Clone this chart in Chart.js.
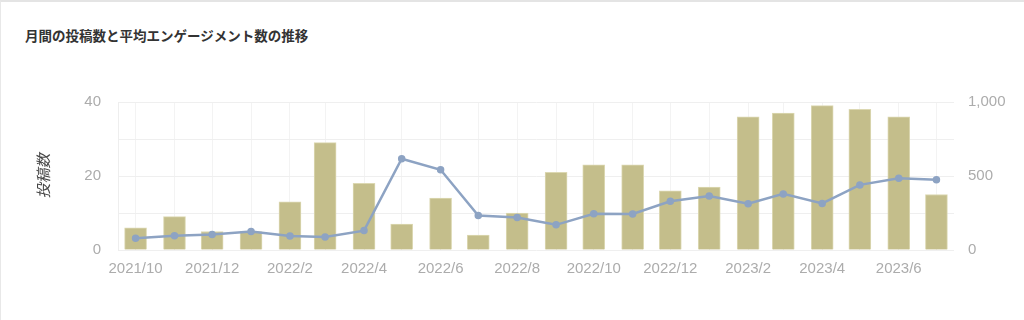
<!DOCTYPE html>
<html>
<head>
<meta charset="utf-8">
<script src="https://cdn.jsdelivr.net/npm/chart.js@4/dist/chart.umd.min.js"></script>
<style>
  html, body { margin: 0; padding: 0; background: #fff; }
  .card {
    position: relative;
    width: 1023px; height: 318px;
    border-top: 2px solid #e4e4e4;
    border-left: 1px solid #e8e8e8;
    font-family: "Noto Sans CJK JP", sans-serif;
  }
  .title {
    position: absolute; left: 24px; top: 23px;
    font-size: 13.5px; font-weight: bold; color: #333;
  }
  .wrap { position: absolute; left: 29px; top: 74px; width: 990px; height: 214px; }
</style>
</head>
<body>
<div class="card">
  <div class="title">月間の投稿数と平均エンゲージメント数の推移</div>
  <div class="wrap"><canvas id="chart"></canvas></div>
</div>
<script>
// months shown on the x axis
const months = [
  '2021/10', '2021/11', '2021/12', '2022/1', '2022/2', '2022/3', '2022/4', '2022/5',
  '2022/6', '2022/7', '2022/8', '2022/9', '2022/10', '2022/11', '2022/12', '2023/1',
  '2023/2', '2023/3', '2023/4', '2023/5', '2023/6', '2023/7'
]
// 投稿数 (left axis)
const posts = [6, 9, 5, 5, 13, 29, 18, 7, 14, 4, 10, 21, 23, 23, 16, 17, 36, 37, 39, 38, 36, 15]
// 平均エンゲージメント数 (right axis)
const engagement = [80, 97, 104, 125, 95, 88, 131, 617, 542, 233, 220, 170, 245, 243, 329, 365, 313, 379, 315, 440, 485, 474]

const leftTicks = [0, 20, 40]
const rightTicks = [0, 500, 1000]

// month string -> day number, so Feb gets its shorter gap like a time axis
const dayOf = (m) => {
    const [y, mo] = m.split('/').map(Number)
    return Date.UTC(y, mo - 1, 1) / 86400000
}
const days = months.map(dayOf)

const tickFont = { family: "'Liberation Sans', Arial, sans-serif", size: 15 }
const tickColor = '#acacac'

new Chart(document.getElementById('chart'), {
    data: {
        datasets: [
            {
                type: 'line',
                label: '平均エンゲージメント数',
                data: days.map((d, i) => ({ x: d, y: engagement[i] })),
                yAxisID: 'y1',
                borderColor: '#8da3c3',
                backgroundColor: '#8da3c3',
                borderWidth: 2.5,
                pointRadius: 2.5,
                tension: 0,
                order: 0
            },
            {
                type: 'bar',
                label: '投稿数',
                data: days.map((d, i) => ({ x: d, y: posts[i] })),
                yAxisID: 'y',
                backgroundColor: '#c4be8b',
                borderColor: '#dcd8b2',
                borderWidth: 1,
                barThickness: 22,
                order: 1
            }
        ]
    },
    options: {
        responsive: true,
        maintainAspectRatio: false,
        animation: false,
        layout: { padding: { top: 4 } },
        plugins: { legend: { display: false }, tooltip: { enabled: false } },
        scales: {
            x: {
                type: 'linear',
                offset: false,
                min: days[0] - 14,
                max: days[days.length - 1] + 14,
                afterBuildTicks: (scale) => { scale.ticks = days.map(v => ({ value: v })) },
                afterFit: (scale) => { scale.height = 40 },
                grid: { color: '#f3f3f3', drawTicks: false, offset: false },
                border: { display: false },
                ticks: {
                    autoSkip: false,
                    maxRotation: 0,
                    padding: 10,
                    color: tickColor,
                    font: tickFont,
                    callback: (v, i) => i % 2 === 0 ? months[i] : ''
                }
            },
            y: {
                position: 'left',
                min: 0,
                max: 40,
                afterFit: (scale) => { scale.width = 88 },
                grid: { color: '#efefef', drawTicks: false },
                border: { color: '#eeeeee' },
                title: {
                    display: true,
                    text: '投稿数',
                    color: '#444',
                    padding: { bottom: 14 },
                    font: { family: "'Noto Sans CJK JP', sans-serif", size: 15, style: 'italic' }
                },
                ticks: {
                    stepSize: 10,
                    padding: 17,
                    color: tickColor,
                    font: tickFont,
                    callback: (v) => leftTicks.includes(v) ? v : ''
                }
            },
            y1: {
                position: 'right',
                min: 0,
                max: 1000,
                afterFit: (scale) => { scale.width = 66 },
                grid: { display: false, drawTicks: false },
                border: { display: false },
                ticks: {
                    stepSize: 250,
                    padding: 14,
                    color: tickColor,
                    font: tickFont,
                    callback: (v) => rightTicks.includes(v) ? v.toLocaleString('en-US') : ''
                }
            }
        }
    }
})
</script>
</body>
</html>
